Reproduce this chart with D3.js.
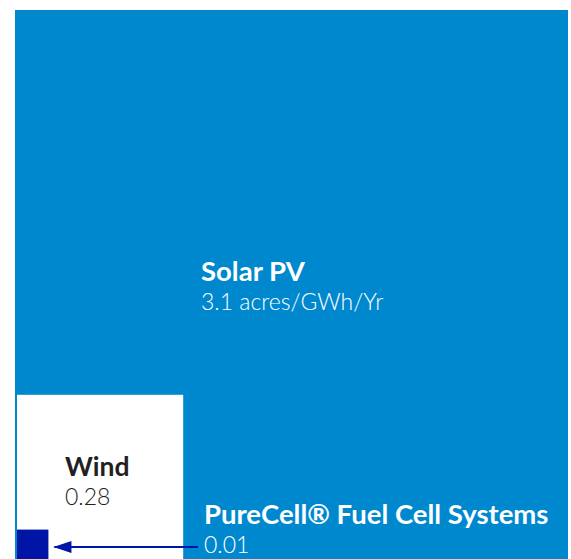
<!DOCTYPE html>
<html>
<head>
<meta charset="utf-8">
<script src="https://cdn.jsdelivr.net/npm/d3@7"></script>
<style>
  body { margin: 0; background: #fff; }
  svg text { font-family: Lato, "Open Sans", sans-serif; }
</style>
</head>
<body>
<div class="landuse-viz"></div>
<script>
// land use per technology (acres/GWh/Yr)
const technologies = ["Solar PV", "Wind", "PureCell® Fuel Cell Systems"];
const values = [3.1, 0.28, 0.01];
const valueLabels = ["3.1 acres/GWh/Yr", "0.28", "0.01"];

const total_width = 571;
const total_height = 559;
const fills = ["#0088cf", "#ffffff", "#0014a6"];

const svg = d3.select(".landuse-viz")
    .append("svg")
    .attr("width", total_width)
    .attr("height", total_height);

// square side ~ sqrt(value), so area is proportional to value
const side = d3.scaleSqrt()
    .domain([0, d3.max(values)])
    .range([0, 553]);

// all squares share a bottom-left corner
const origin = {x: 15, y: 563};
const inset = [0, 2, 2];

svg.selectAll("rect.sq")
    .data(values)
    .enter()
    .append("rect")
    .attr("class", "sq")
    .attr("x", (d, i) => origin.x + inset[i])
    .attr("y", (d, i) => origin.y - inset[i] - side(d))
    .attr("width", d => side(d))
    .attr("height", d => side(d))
    .attr("fill", (d, i) => fills[i]);

// labels
const labelPos = [
    {x: 201, y: 281, color: "#ffffff", name: 27.5},
    {x: 65, y: 476, color: "#231f20", name: 26.5},
    {x: 204, y: 524, color: "#ffffff", name: 27.5}
];

svg.selectAll("text.name")
    .data(technologies)
    .enter()
    .append("text")
    .attr("class", "name")
    .attr("x", (d, i) => labelPos[i].x)
    .attr("y", (d, i) => labelPos[i].y)
    .attr("fill", (d, i) => labelPos[i].color)
    .attr("font-size", (d, i) => labelPos[i].name + "px")
    .attr("font-weight", "bold")
    .text(d => d);

svg.selectAll("text.value")
    .data(valueLabels)
    .enter()
    .append("text")
    .attr("class", "value")
    .attr("x", (d, i) => labelPos[i].x)
    .attr("y", (d, i) => labelPos[i].y + 29)
    .attr("fill", (d, i) => labelPos[i].color)
    .attr("font-size", "23px")
    .attr("font-weight", "300")
    .text(d => d);

// arrow pointing to the tiny fuel cell square
const small = origin.x + inset[2] + side(values[2]);
svg.append("line")
    .attr("x1", 198)
    .attr("x2", small + 6)
    .attr("y1", 547)
    .attr("y2", 547)
    .attr("stroke", "#0014a6")
    .attr("stroke-width", 2);

svg.append("path")
    .attr("d", `M${small + 5},547 L${small + 23},541 L${small + 23},553 Z`)
    .attr("fill", "#0014a6");
</script>
</body>
</html>
